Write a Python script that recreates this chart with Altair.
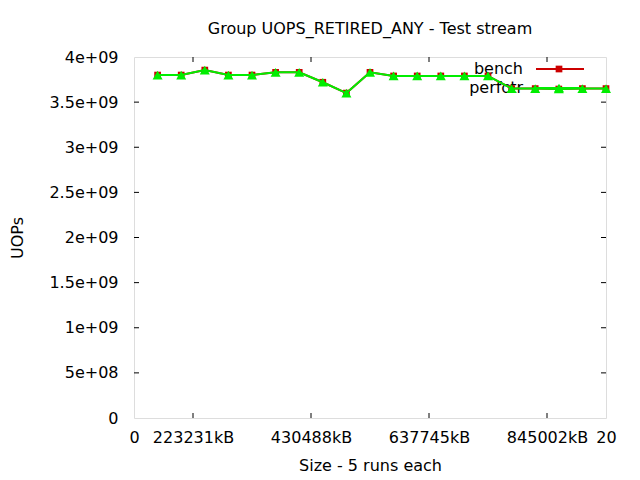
import altair as alt
import pandas as pd

# ---- data ----
x_index = list(range(1, 21))
bench = [3.80e9, 3.80e9, 3.855e9, 3.80e9, 3.80e9, 3.83e9, 3.83e9, 3.72e9, 3.60e9, 3.83e9,
         3.79e9, 3.79e9, 3.79e9, 3.79e9, 3.79e9, 3.65e9, 3.65e9, 3.645e9, 3.65e9, 3.65e9]
perfctr = [3.80e9, 3.80e9, 3.855e9, 3.80e9, 3.80e9, 3.83e9, 3.83e9, 3.72e9, 3.60e9, 3.83e9,
           3.79e9, 3.79e9, 3.79e9, 3.79e9, 3.79e9, 3.65e9, 3.65e9, 3.645e9, 3.65e9, 3.65e9]
x_tick_values = [0, 2.5, 7.5, 12.5, 17.5, 20]
x_tick_labels = ["0", "223231kB", "430488kB", "637745kB", "845002kB", "20"]
y_tick_values = [0, 5e8, 1e9, 1.5e9, 2e9, 2.5e9, 3e9, 3.5e9, 4e9]
y_tick_labels = ["0", "5e+08", "1e+09", "1.5e+09", "2e+09", "2.5e+09", "3e+09", "3.5e+09", "4e+09"]
series_names = ["bench", "perfctr"]

FONT = "DejaVu Sans"
FS = 16
RED = "#cc0000"
GREEN = "#00ee00"
W, H = 472, 361
SQ, TRI = 45, 100

df_b = pd.DataFrame({"x": x_index, "y": bench})
df_p = pd.DataFrame({"x": x_index, "y": perfctr})
one = pd.DataFrame({"k": [0]})


def label_expr(vals, labels):
    parts = " : ".join(f"datum.value == {v} ? '{l}'" for v, l in zip(vals, labels))
    return parts + " : ''"


xs = alt.Scale(domain=[0, 20], nice=False, zero=False)
ys = alt.Scale(domain=[0, 4e9], nice=False)

x_axis = alt.Axis(values=x_tick_values, labelExpr=label_expr(x_tick_values, x_tick_labels),
                  ticks=False, domain=False, grid=False, labelPadding=11,
                  labelFont=FONT, labelFontSize=FS, labelColor="black",
                  title="Size - 5 runs each", titleFont=FONT, titleFontSize=FS,
                  titleFontWeight="normal", titleColor="black",
                  titleX=W / 2, titleY=47, titleBaseline="middle", labelFlush=False)
y_axis = alt.Axis(values=y_tick_values, labelExpr=label_expr(y_tick_values, y_tick_labels),
                  ticks=False, domain=False, grid=False, labelPadding=16,
                  labelFont=FONT, labelFontSize=FS, labelColor="black",
                  title="UOPs", titleFont=FONT, titleFontSize=FS,
                  titleFontWeight="normal", titleColor="black",
                  titleX=-117, titleY=H / 2, titleBaseline="middle", titleAngle=270)

base_b = alt.Chart(df_b)
base_p = alt.Chart(df_p)
base_1 = alt.Chart(one)

axes_layer = base_b.mark_point(opacity=0).encode(
    x=alt.X("x:Q", scale=xs, axis=x_axis),
    y=alt.Y("y:Q", scale=ys, axis=y_axis),
)

# inward ticks
xt = pd.DataFrame({"t": x_tick_values[1:-1]})
yt = pd.DataFrame({"t": y_tick_values[1:-1]})
tick_b = alt.Chart(xt).mark_rule(color="black").encode(
    x=alt.X("t:Q", scale=xs), y=alt.value(H), y2=alt.value(H - 5))
tick_t = alt.Chart(xt).mark_rule(color="black").encode(
    x=alt.X("t:Q", scale=xs), y=alt.value(0), y2=alt.value(5))
tick_l = alt.Chart(yt).mark_rule(color="black").encode(
    y=alt.Y("t:Q", scale=ys), x=alt.value(0), x2=alt.value(5))
tick_r = alt.Chart(yt).mark_rule(color="black").encode(
    y=alt.Y("t:Q", scale=ys), x=alt.value(W), x2=alt.value(W - 5))

# legend (gnuplot style: text left of the sample)
leg_txt_b = base_1.mark_text(align="right", baseline="middle", font=FONT, fontSize=FS,
                             color="black", text=series_names[0]).encode(
    x=alt.value(389), y=alt.value(12))
leg_txt_p = base_1.mark_text(align="right", baseline="middle", font=FONT, fontSize=FS,
                             color="black", text=series_names[1]).encode(
    x=alt.value(389), y=alt.value(31))
leg_line_b = base_1.mark_rule(color=RED, strokeWidth=2).encode(
    x=alt.value(402), x2=alt.value(450), y=alt.value(12))
leg_pt_b = base_1.mark_point(shape="square", filled=True, color=RED, size=SQ, opacity=1).encode(
    x=alt.value(425), y=alt.value(12))
leg_line_p = base_1.mark_rule(color=GREEN, strokeWidth=2).encode(
    x=alt.value(402), x2=alt.value(450), y=alt.value(31))
leg_pt_p = base_1.mark_point(shape="triangle-up", filled=True, color=GREEN, size=TRI, opacity=1).encode(
    x=alt.value(425), y=alt.value(31))

line_b = base_b.mark_line(color=RED, strokeWidth=2).encode(
    x=alt.X("x:Q", scale=xs), y=alt.Y("y:Q", scale=ys))
pts_b = base_b.mark_point(shape="square", filled=True, color=RED, size=SQ, opacity=1).encode(
    x=alt.X("x:Q", scale=xs), y=alt.Y("y:Q", scale=ys))
line_p = base_p.mark_line(color=GREEN, strokeWidth=2).encode(
    x=alt.X("x:Q", scale=xs), y=alt.Y("y:Q", scale=ys))
pts_p = base_p.mark_point(shape="triangle-up", filled=True, color=GREEN, size=TRI, opacity=1).encode(
    x=alt.X("x:Q", scale=xs), y=alt.Y("y:Q", scale=ys))

chart = alt.layer(
    axes_layer, tick_b, tick_t, tick_l, tick_r,
    leg_txt_b, leg_txt_p,
    line_b, pts_b, leg_line_b, leg_pt_b,
    line_p, pts_p, leg_line_p, leg_pt_p,
).properties(
    width=W, height=H,
    title=alt.TitleParams("Group UOPS_RETIRED_ANY - Test stream", font=FONT, fontSize=FS,
                          fontWeight="normal", color="black", anchor="middle", offset=12),
    autosize=alt.AutoSizeParams(type="none"),
    padding={"left": 126, "top": 49, "right": 26, "bottom": 60},
).configure_view(stroke="black", strokeWidth=1).configure(background="white")

chart.save("out.html", embed_options={"renderer": "svg", "actions": False})
